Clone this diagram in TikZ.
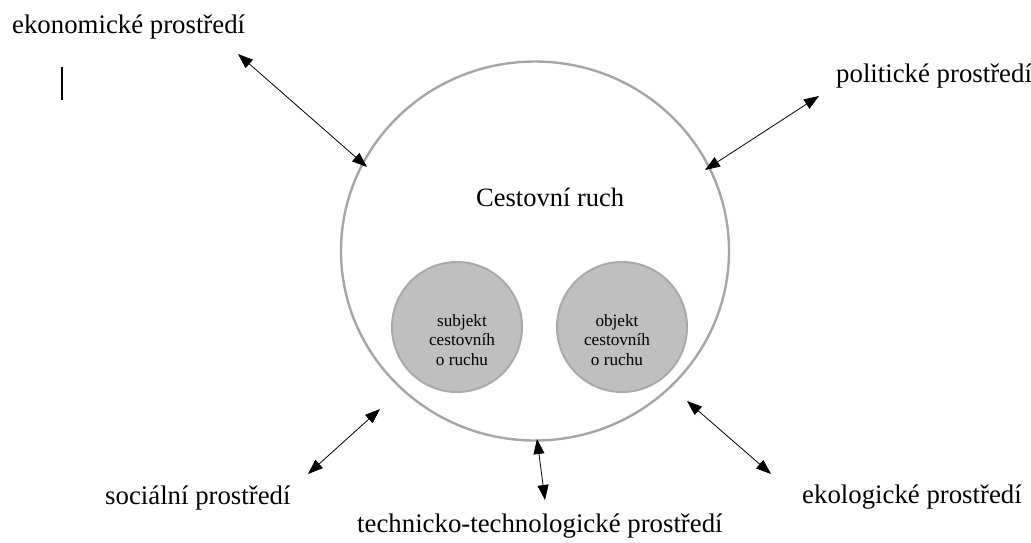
\documentclass[tikz,border=0pt]{standalone}
\usepackage{fontspec}
\setmainfont{Liberation Serif}
\usetikzlibrary{arrows.meta,shapes.geometric}
\definecolor{ringgray}{HTML}{A6A6A6}
\definecolor{ballfill}{HTML}{BFBFBF}
\definecolor{ballline}{HTML}{A9A9A9}
\begin{document}
\begin{tikzpicture}[x=1pt,y=-1pt,
  lbl/.style={anchor=base west,inner sep=0pt,font=\fontsize{26.8}{30}\selectfont},
  ball/.style={circle,draw=ballline,line width=2pt,fill=ballfill,minimum size=130pt,inner sep=0pt},
  balltxt/.style={align=center,inner sep=0pt,font=\fontsize{17.2}{19.5}\selectfont},
  link/.style={{Triangle[length=15pt,width=11pt]}-{Triangle[length=15pt,width=11pt]},line width=0.8pt,black}]
\useasboundingbox (0,0) rectangle (1031,542);
% outer ellipse
\node (cr) [ellipse,draw=ringgray,line width=2.4pt,minimum width=388pt,minimum height=379pt,inner sep=0pt] at (535,251) {};
\node (title) [lbl,font=\fontsize{26.5}{30}\selectfont] at (476,206) {Cestovní ruch};
% inner circles
\node (subj) [ball] at (457,327) {};
\node (obj) [ball] at (622,327) {};
\node (subjt) [balltxt] at (462,340) {subjekt\\cestovníh\\o ruchu};
\node (objt) [balltxt] at (617,340) {objekt\\cestovníh\\o ruchu};
% labels
\node (eko) [lbl] at (12,33) {ekonomické prostředí};
\node (pol) [lbl] at (836,82) {politické prostředí};
\node (soc) [lbl] at (105,504) {sociální prostředí};
\node (tech) [lbl] at (357,532) {technicko-technologické prostředí};
\node (ekol) [lbl] at (802,503) {ekologické prostředí};
% cursor mark
\coordinate (cura) at (62,67);
\coordinate (curb) at (62,100);
\draw[line width=1.6pt] (cura) -- (curb);
% arrow ends
\coordinate (a1) at (238,54);  \coordinate (b1) at (367,167);
\coordinate (a2) at (819,96);  \coordinate (b2) at (705,170);
\coordinate (a3) at (308,474); \coordinate (b3) at (380,409);
\coordinate (a4) at (537,439); \coordinate (b4) at (545,500);
\coordinate (a5) at (687,401); \coordinate (b5) at (771,474);
\draw[link] (a1) -- (b1);
\draw[link] (a2) -- (b2);
\draw[link] (a3) -- (b3);
\draw[link] (a4) -- (b4);
\draw[link] (a5) -- (b5);
\end{tikzpicture}
\end{document}
